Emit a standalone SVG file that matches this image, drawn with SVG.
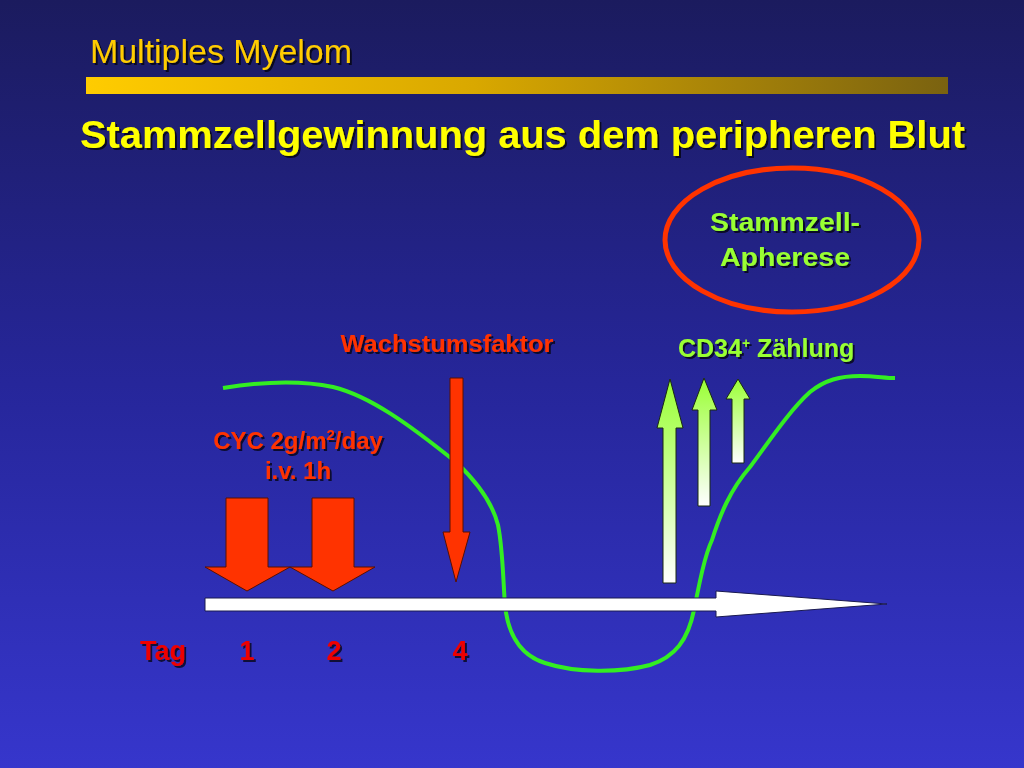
<svg xmlns="http://www.w3.org/2000/svg" width="1024" height="768" viewBox="0 0 1024 768">
<defs>
<linearGradient id="bg" x1="0" y1="0" x2="0" y2="1">
<stop offset="0" stop-color="#1b1b5e"/>
<stop offset="0.5" stop-color="#26269a"/>
<stop offset="1" stop-color="#3636cc"/>
</linearGradient>
<linearGradient id="bar" x1="0" y1="0" x2="1" y2="0">
<stop offset="0" stop-color="#ffcc00"/>
<stop offset="0.45" stop-color="#d9a800"/>
<stop offset="1" stop-color="#7a6210"/>
</linearGradient>
<linearGradient id="garrow" x1="0" y1="0" x2="0" y2="1">
<stop offset="0" stop-color="#99ff33"/>
<stop offset="1" stop-color="#ffffff"/>
</linearGradient>
<filter id="sh" x="-5%" y="-20%" width="110%" height="140%">
<feDropShadow dx="2" dy="2" stdDeviation="0.6" flood-color="#000" flood-opacity="0.7"/>
</filter>
<style>
.t{font-family:"Liberation Sans",Arial,sans-serif;font-weight:bold;filter:url(#sh)}
.n{font-family:"Liberation Sans Narrow","Arial Narrow","Liberation Sans",sans-serif}
.red{fill:#ff3300}
.grn{fill:#99ff33}
.red-arrow{fill:#ff3300;stroke:#5a1000;stroke-width:1}
.g-arrow{fill:url(#garrow);stroke:#1a2a10;stroke-width:1}
</style>
</defs>
<rect width="1024" height="768" fill="url(#bg)"/>

<g id="header">
<text class="n" x="90" y="63" font-size="33" fill="#ffcc00" textLength="262" lengthAdjust="spacingAndGlyphs" filter="url(#sh)">Multiples Myelom</text>
<rect x="86" y="77" width="862" height="17" fill="url(#bar)"/>
<text class="t" x="80" y="148" font-size="39" fill="#ffff00" textLength="885" lengthAdjust="spacingAndGlyphs">Stammzellgewinnung aus dem peripheren Blut</text>
</g>

<g id="apherese">
<ellipse cx="792" cy="240" rx="127" ry="72" fill="none" stroke="#ff3300" stroke-width="5"/>
<text class="t grn" x="785" y="231" font-size="26" text-anchor="middle" textLength="150" lengthAdjust="spacingAndGlyphs">Stammzell-</text>
<text class="t grn" x="785" y="266" font-size="26" text-anchor="middle" textLength="130" lengthAdjust="spacingAndGlyphs">Apherese</text>
</g>

<g id="curve">
<path d="M223,388 C260,382 300,380 333,387 C370,396 410,425 457,463 C480,485 493,505 498,525 C503,550 503,580 505,605 C508,635 520,655 545,663 C575,673 620,673 650,665 C675,657 688,640 694,610 C700,580 705,555 712,540 C720,515 730,490 750,467 C770,440 790,410 810,392 C825,380 840,376 860,376 C875,376 885,378 895,378" fill="none" stroke="#33ee22" stroke-width="4"/>
</g>

<g id="axis">
<path d="M205,598 L716,598 L716,591 L887,604 L716,617 L716,611 L205,611 Z" fill="#ffffff" stroke="#1a1a50" stroke-width="1"/>
</g>

<g id="cyc">
<text class="t red" x="298" y="449" font-size="24" text-anchor="middle">CYC 2g/m<tspan font-size="15" dy="-9">2</tspan><tspan dy="9">/day</tspan></text>
<text class="t red" x="298" y="479" font-size="24" text-anchor="middle">i.v. 1h</text>
<path class="red-arrow" d="M226,498 L268,498 L268,567 L290,567 L247,591 L205,567 L226,567 Z"/>
<path class="red-arrow" d="M312,498 L354,498 L354,567 L375,567 L333,591 L290,567 L312,567 Z"/>
</g>

<g id="wachstum">
<text class="t red" x="447" y="352" font-size="24" text-anchor="middle" textLength="213" lengthAdjust="spacingAndGlyphs">Wachstumsfaktor</text>
<path class="red-arrow" d="M450,378 L463,378 L463,532 L470,532 L456,582 L443,532 L450,532 Z"/>
</g>

<g id="cd34">
<text class="t grn" x="678" y="357" font-size="25">CD34<tspan font-size="14" dy="-9">+</tspan><tspan dy="9"> Zählung</tspan></text>
<path class="g-arrow" d="M663,583 L663,428 L657,428 L670,379 L683,428 L676,428 L676,583 Z"/>
<path class="g-arrow" d="M698,506 L698,410 L692,410 L704,378 L717,410 L710,410 L710,506 Z"/>
<path class="g-arrow" d="M732,463 L732,399 L726,399 L738,379 L750,399 L744,399 L744,463 Z"/>
</g>

<g id="days" class="n" font-weight="bold" font-size="27" fill="#ee0000" filter="url(#sh)">
<text x="140" y="660" textLength="46" lengthAdjust="spacingAndGlyphs">Tag</text>
<text x="247" y="660" text-anchor="middle">1</text>
<text x="334" y="660" text-anchor="middle">2</text>
<text x="460" y="660" text-anchor="middle">4</text>
</g>
</svg>
